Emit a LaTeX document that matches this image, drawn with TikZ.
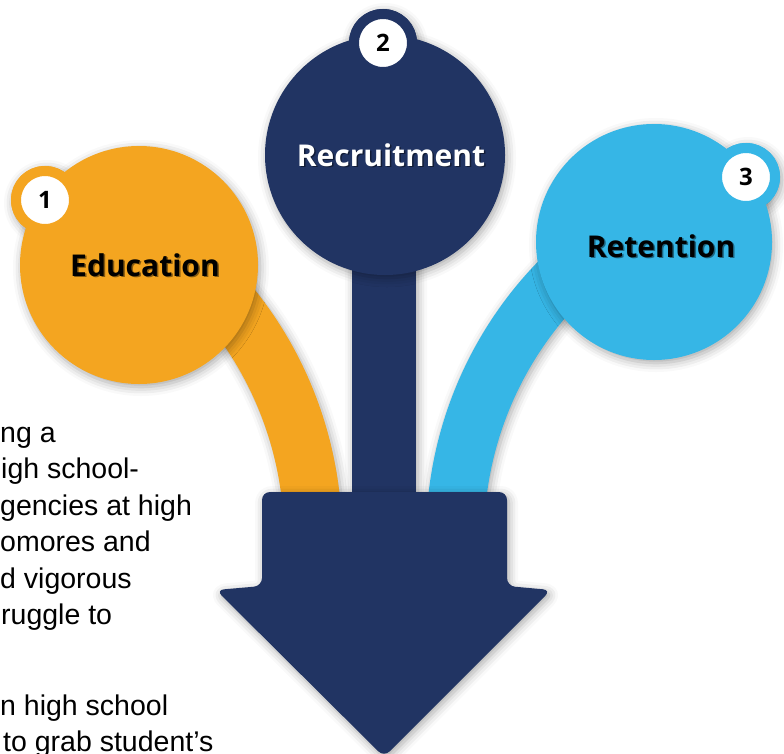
\documentclass[tikz,border=0pt]{standalone}
\usepackage{fontspec}
\setmainfont{Liberation Sans}
\newfontfamily\headfont{Open Sans}
\usetikzlibrary{positioning,shadows.blur}

\definecolor{recnavy}{RGB}{33,52,99}
\definecolor{eduorange}{RGB}{244,165,32}
\definecolor{retblue}{RGB}{54,182,230}

\tikzset{
  shadowed/.style={blur shadow={shadow xshift=2pt, shadow yshift=-3pt, shadow blur radius=9pt, shadow opacity=35}},
  disc/.style={circle, inner sep=0pt, shadowed},
  badge/.style={circle, fill=white, draw=#1, line width=10pt, minimum size=58pt, inner sep=0pt,
    font=\headfont\bfseries\fontsize{24}{28}\selectfont},
  headtext/.style={inner sep=0pt, font=\headfont\bfseries\fontsize{30}{36}\selectfont},
  headshade/.style={headtext, text=black, opacity=.45},
  bodytext/.style={anchor=base west, inner sep=0pt, font=\fontsize{28.5}{34}\selectfont}
}

\begin{document}
\begin{tikzpicture}[x=1pt, y=1pt]
\useasboundingbox (0,0) rectangle (784,-753);
\clip (0,0) rectangle (784,-753);

% text on the left, cut by the page
\node  (txt1)[bodytext] at (0,-442) {ng a};
\node  (txt2)[bodytext] at (1,-478) {igh school-};
\node  (txt3)[bodytext] at (0,-515) {gencies at high};
\node  (txt4)[bodytext] at (0,-551) {omores and};
\node  (txt5)[bodytext] at (0,-588) {d vigorous};
\node  (txt6)[bodytext] at (1,-624) {ruggle to};
\node  (txt7)[bodytext] at (0,-715) {n high school};
\node  (txt8)[bodytext] at (3,-751) {to grab student’s};

% bands into the arrow
\fill[eduorange, shadowed] ([shift={(-55,-538)}]50:397) arc (50:-5:397)
  -- ([shift={(-55,-538)}]-5:339) arc (-5:50:339) -- cycle;
\fill[retblue, shadowed] ([shift={(823,-538)}]130:397) arc (130:185:397)
  -- ([shift={(823,-538)}]185:339) arc (185:130:339) -- cycle;

% stem and arrow
\coordinate (arrowtop) at (384,-492);
\coordinate (rectop) at (384,-155);
\fill[recnavy, shadowed] ([xshift=-32pt]rectop) rectangle ([xshift=32pt, yshift=-10pt]arrowtop);
\fill[recnavy, shadowed, rounded corners=8pt] (262,-492) -- (507,-492) -- (507,-586)
  -- (551,-590) -- (384,-757) -- (216,-590) -- (262,-586) -- cycle;

% Education
\node  (edu-ring)[disc, fill=eduorange, minimum size=68pt] at (45,-200) {};
\node  (edu)[disc, fill=eduorange, minimum size=238pt] at (139,-265) {};
\node  (edu-num)[badge=eduorange] at (edu-ring) {1};
\node  (edu-shade)[headshade] at ([shift={(7.5pt,-1.5pt)}]edu.center) {Education};
\node  (edu-text)[headtext] at ([xshift=6pt]edu.center) {Education};

% Recruitment
\node  (rec-ring)[disc, fill=recnavy, minimum size=68pt] at (383,-43) {};
\node  (rec)[disc, fill=recnavy, minimum size=240pt] at (385,-155) {};
\node  (rec-num)[badge=recnavy] at (rec-ring) {2};
\node  (rec-shade)[headshade] at ([shift={(7.5pt,-1.5pt)}]rec.center) {Recruitment};
\node  (rec-text)[headtext, text=white] at ([xshift=6pt]rec.center) {Recruitment};

% Retention
\node  (ret-ring)[disc, fill=retblue, minimum size=68pt] at (746,-177) {};
\node  (ret)[disc, fill=retblue, minimum size=236pt] at (654,-242) {};
\node  (ret-num)[badge=retblue] at (ret-ring) {3};
\node  (ret-shade)[headshade] at ([shift={(8.5pt,-5.5pt)}]ret.center) {Retention};
\node  (ret-text)[headtext] at ([shift={(7pt,-4pt)}]ret.center) {Retention};
\end{tikzpicture}
\end{document}
